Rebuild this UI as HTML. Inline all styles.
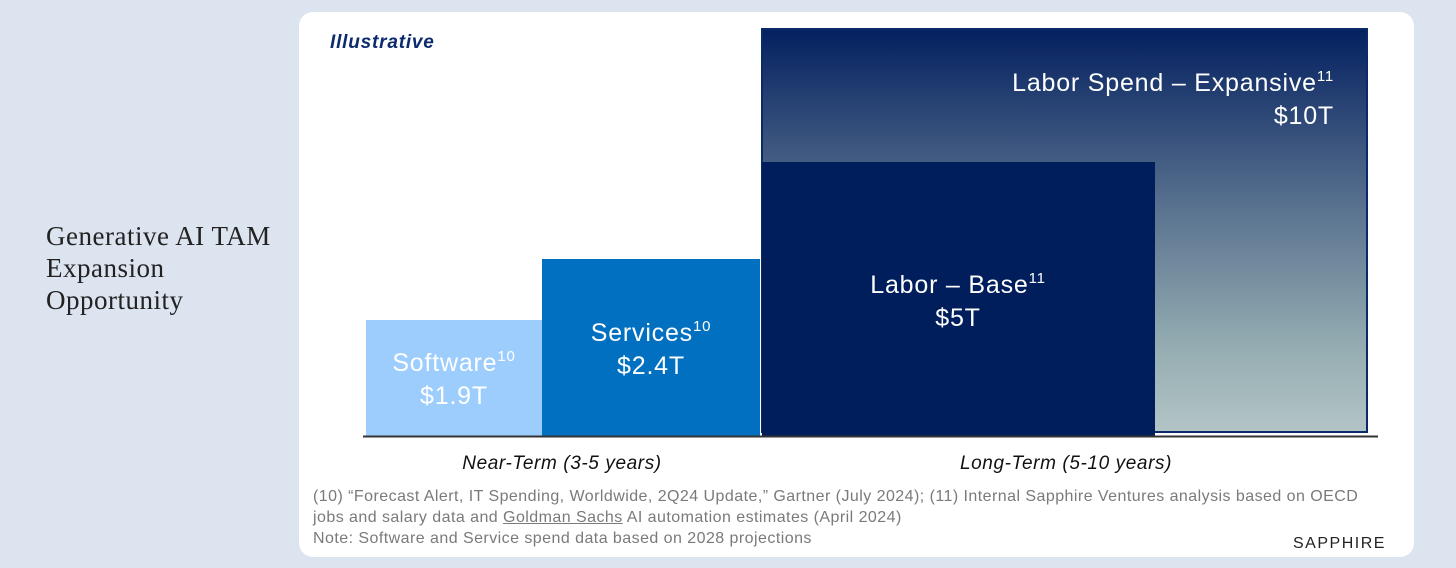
<!DOCTYPE html>
<html><head><meta charset="utf-8"><style>
body{margin:0;width:1456px;height:568px;background:#dce4ef;position:relative;overflow:hidden;font-family:"Liberation Sans",sans-serif}
#card{position:absolute;left:299px;top:12px;width:1115px;height:545px;background:#fff;border-radius:14px}
#title{position:absolute;left:46px;top:220px;font-family:"Liberation Serif",serif;font-size:27px;letter-spacing:0.5px;line-height:32px;color:#222}
.fn{position:absolute;left:313px;font-size:16px;letter-spacing:0.45px;color:#7a7a7a;white-space:nowrap}
</style></head><body>
<div id="title">Generative AI TAM<br>Expansion<br>Opportunity</div>
<div id="card"></div>
<svg id="chart" width="1456" height="568" style="position:absolute;left:0;top:0">
<defs><linearGradient id="grad" x1="0" y1="0" x2="0" y2="1">
<stop offset="0" stop-color="#04205f"/><stop offset="0.45" stop-color="#5a7390"/><stop offset="0.8" stop-color="#96aeb2"/><stop offset="1" stop-color="#b3c4c6"/></linearGradient></defs>
<text x="330" y="48" font-size="19" letter-spacing="0.8" font-weight="bold" font-style="italic" fill="#0c2a6e">Illustrative</text>
</svg>
<div class="fn" style="top:488px">(10) “Forecast Alert, IT Spending, Worldwide, 2Q24 Update,” Gartner (July 2024); (11) Internal Sapphire Ventures analysis based on OECD</div>
<div class="fn" style="top:509px">jobs and salary data and <span style="text-decoration:underline">Goldman Sachs</span> AI automation estimates (April 2024)</div>
<div class="fn" style="top:530px">Note: Software and Service spend data based on 2028 projections</div>
<div style="position:absolute;left:1293px;top:535px;font-size:16px;color:#222;letter-spacing:1.5px">SAPPHIRE</div>
<script>
const categories=["Software","Services","Labor – Base","Labor Spend – Expansive"];
const values=[1.9,2.4,5,10];
const valueLabels=["$1.9T","$2.4T","$5T","$10T"];
const superscripts=["10","10","11","11"];
const periods=["Near-Term (3-5 years)","Long-Term (5-10 years)"];
// illustrative (non-linear) value axis
const yDomain=[0,1.9,2.4,5,10];
const yRange=[436,320,259,162,29];
function y(v){for(let i=1;i<yDomain.length;i++){if(v<=yDomain[i]){const t=(v-yDomain[i-1])/(yDomain[i]-yDomain[i-1]);return yRange[i-1]+t*(yRange[i]-yRange[i-1]);}}return yRange[yRange.length-1];}
const ns="http://www.w3.org/2000/svg",svg=document.getElementById('chart');
function mk(tag,a){const e=document.createElementNS(ns,tag);for(const k in a)e.setAttribute(k,a[k]);svg.appendChild(e);return e;}
const geo=[{x0:366,x1:542,fill:"#9dcdfd"},{x0:542,x1:760,fill:"#0270c0"},{x0:762,x1:1155,fill:"#001e5b"},{x0:762,x1:1367,fill:"url(#grad)"}];
const order=[3,0,1,2];
order.forEach(i=>{const g=geo[i];const top=y(values[i]);const bot=i==3?432:436;
const r=mk('rect',{x:g.x0,y:top,width:g.x1-g.x0,height:bot-top,fill:g.fill});
if(i==3){r.setAttribute('stroke','#0b2a6a');r.setAttribute('stroke-width','2');}

});
const labelPos=[{cx:454,ly:y(values[0])+51,anchor:'middle'},{cx:651,ly:y(values[1])+82,anchor:'middle'},{cx:958,ly:y(values[2])+131,anchor:'middle'},{cx:1334,ly:y(values[3])+62,anchor:'end'}];
labelPos.forEach((p,i)=>{
const t=mk('text',{x:p.cx,y:p.ly,'font-size':25,'letter-spacing':0.8,fill:'#fff','text-anchor':p.anchor});


t.textContent=categories[i];const s=document.createElementNS(ns,'tspan');s.setAttribute('font-size','15');s.setAttribute('dy','-10');s.textContent=superscripts[i];t.appendChild(s);
const v=mk('text',{x:p.cx,y:p.ly+33,'font-size':25,'letter-spacing':0.8,fill:'#fff','text-anchor':p.anchor});


v.textContent=valueLabels[i];});
const ax=mk('line',{x1:363,x2:1378,y1:436.5,y2:436.5,stroke:'#333',"stroke-width":2});


[562,1066].forEach((cx,i)=>{const t=mk('text',{x:cx,y:469,'font-size':19,'letter-spacing':0.6,'font-style':'italic',fill:'#111','text-anchor':'middle'});


t.textContent=periods[i];});
</script>
</body></html>
